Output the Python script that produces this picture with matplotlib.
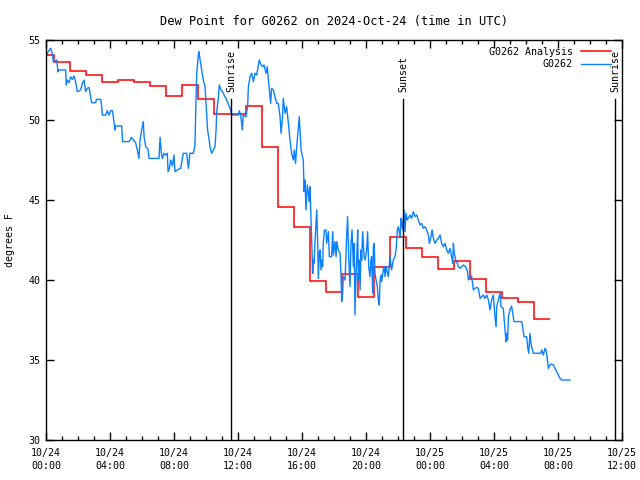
import numpy as np
import pandas as pd
import matplotlib
matplotlib.use("Agg")
import matplotlib.pyplot as plt
import matplotlib.dates as mdates

# Dew point for G0262, 2024-10-24 (UTC)
start = pd.Timestamp("2024-10-24 00:00")

# Hourly analysis values (hour since start, deg F)
ana_hours = np.arange(32)
ana_dewpt = [54.06, 53.65, 53.04, 52.81, 52.35, 52.48, 52.35, 52.13, 51.48, 52.19,
             51.29, 50.35, 50.35, 50.90, 48.29, 44.58, 43.33, 39.94, 39.23, 40.35,
             38.92, 40.83, 42.71, 41.98, 41.42, 40.67, 41.19, 40.04, 39.23, 38.90,
             38.60, 37.56]

# Station obs (hour since start, deg F)
obs_hours = [
    0.04, 0.29, 0.39, 0.46, 0.67, 0.75, 0.81, 1.23, 1.27, 1.33, 1.44, 1.54, 1.65, 1.75,
    1.85, 1.96, 2.17, 2.27, 2.38, 2.48, 2.58, 2.69, 2.79, 2.85, 3.10, 3.15, 3.42, 3.48,
    3.52, 3.73, 3.83, 3.94, 4.04, 4.15, 4.25, 4.31, 4.35, 4.73, 4.79, 5.19, 5.25, 5.33,
    5.46, 5.60, 5.71, 5.81, 5.88, 5.98, 6.08, 6.13, 6.23, 6.38, 6.44, 7.06, 7.13, 7.21,
    7.27, 7.38, 7.48, 7.58, 7.63, 7.71, 7.79, 7.90, 8.00, 8.06, 8.21, 8.42, 8.58, 8.79,
    8.90, 9.00, 9.21, 9.31, 9.36, 9.42, 9.52, 9.56, 9.63, 9.73, 9.83, 9.94, 10.00, 10.10,
    10.21, 10.25, 10.35, 10.46, 10.56, 10.63, 10.67, 10.77, 10.83, 10.92, 11.04, 11.13,
    11.25, 11.33, 11.46, 11.54, 11.60, 12.02, 12.08, 12.17, 12.27, 12.33, 12.50, 12.60,
    12.65, 12.75, 12.85, 12.96, 13.06, 13.17, 13.27, 13.33, 13.44, 13.54, 13.63, 13.75,
    13.83, 13.90, 13.96, 14.04, 14.10, 14.21, 14.31, 14.42, 14.52, 14.63, 14.69, 14.77,
    14.83, 14.94, 15.04, 15.15, 15.25, 15.35, 15.46, 15.52, 15.60, 15.67, 15.77, 15.83,
    15.94, 16.08, 16.13, 16.19, 16.25, 16.33, 16.40, 16.46, 16.50, 16.56, 16.63, 16.67,
    16.71, 16.75, 16.81, 16.92, 16.98, 17.02, 17.08, 17.13, 17.19, 17.25, 17.29, 17.33,
    17.40, 17.50, 17.54, 17.65, 17.71, 17.85, 17.92, 17.96, 18.06, 18.13, 18.17, 18.27,
    18.38, 18.44, 18.48, 18.54, 18.58, 18.69, 18.79, 18.85, 18.92, 19.00, 19.06, 19.13,
    19.21, 19.27, 19.31, 19.38, 19.42, 19.48, 19.52, 19.58, 19.63, 19.69, 19.73, 19.79,
    19.88, 19.94, 20.04, 20.10, 20.17, 20.25, 20.31, 20.35, 20.42, 20.46, 20.52, 20.56,
    20.63, 20.71, 20.77, 20.83, 20.88, 20.94, 20.98, 21.08, 21.15, 21.19, 21.25, 21.29,
    21.40, 21.50, 21.60, 21.71, 21.81, 21.88, 21.92, 21.96, 22.02, 22.08, 22.13, 22.19,
    22.23, 22.29, 22.38, 22.44, 22.50, 22.58, 22.69, 22.75, 22.85, 22.96, 23.06, 23.17,
    23.27, 23.38, 23.48, 23.58, 23.69, 23.79, 23.90, 23.96, 24.04, 24.13, 24.21, 24.31,
    24.42, 24.52, 24.63, 24.73, 24.83, 24.94, 25.04, 25.15, 25.25, 25.35, 25.42, 25.46,
    25.52, 25.63, 25.71, 25.77, 25.88, 25.98, 26.08, 26.23, 26.35, 26.40, 26.50, 26.60,
    26.71, 26.81, 26.92, 27.02, 27.13, 27.23, 27.33, 27.44, 27.54, 27.65, 27.75, 27.85,
    27.96, 28.06, 28.13, 28.17, 28.27, 28.38, 28.44, 28.58, 28.65, 28.75, 28.79, 28.85,
    28.90, 29.00, 29.10, 29.17, 29.25, 29.73, 29.79, 29.88, 30.04, 30.10, 30.17, 30.25,
    30.31, 30.35, 30.46, 30.92, 30.98, 31.08, 31.19, 31.25, 31.33, 31.40, 31.50, 31.60,
    31.71, 31.81, 31.92, 32.02, 32.13, 32.23, 32.75]
obs_dewpt = [
    54.13, 54.48, 54.17, 53.65, 53.75, 53.00, 53.13, 53.13, 52.19, 52.50, 52.33, 52.70, 52.54, 52.75,
    52.40, 51.77, 51.88, 52.29, 52.50, 51.77, 51.98, 52.04, 51.46, 51.08, 51.08, 51.29, 51.29, 50.83,
    50.31, 50.31, 50.58, 50.31, 50.58, 50.58, 49.90, 49.38, 49.63, 49.63, 48.65, 48.65, 48.75, 48.92,
    48.75, 48.58, 48.13, 47.60, 48.75, 49.38, 49.90, 48.96, 48.33, 48.17, 47.60, 47.60, 48.92, 47.92,
    47.60, 47.92, 47.81, 47.92, 46.77, 46.98, 47.50, 47.13, 47.81, 46.77, 46.88, 46.98, 47.92, 47.92,
    46.98, 47.92, 47.92, 48.44, 50.63, 52.92, 54.06, 54.27, 53.75, 53.13, 52.50, 52.08, 51.04, 49.38,
    48.65, 48.33, 47.92, 48.13, 48.33, 49.38, 50.52, 51.35, 52.19, 51.92, 51.77, 51.56,
    51.35, 51.15, 50.83, 50.63, 50.31, 50.31, 50.58, 50.31, 49.38, 50.31, 50.20, 50.83,
    52.08, 52.70, 52.92, 52.40, 52.92, 52.81, 53.44, 53.75, 53.44, 53.33, 53.44, 52.92,
    53.33, 52.50, 51.88, 51.04, 51.98, 51.88, 51.46, 51.04, 51.04, 50.20, 49.17, 50.00,
    51.35, 50.42, 50.83, 49.79, 48.75, 47.92, 47.50, 48.13, 47.29, 48.33, 49.48, 50.20,
    48.13, 47.50, 45.52, 46.25, 44.38, 45.94, 45.42, 44.90, 45.83, 43.96, 41.67, 40.42,
    41.25, 41.04, 42.29, 44.38, 42.40, 40.10, 41.67, 41.88, 40.63, 41.25, 40.83, 42.29,
    43.13, 43.13, 42.29, 43.02, 41.46, 41.46, 43.02, 41.56, 42.40, 41.46, 42.40, 41.88,
    41.67, 40.21, 38.65, 39.17, 40.21, 40.00, 42.71, 43.96, 41.46, 39.58, 42.29, 43.13,
    40.83, 42.29, 37.81, 40.42, 41.25, 43.13, 40.00, 41.25, 39.38, 41.88, 41.25, 43.02,
    41.46, 41.25, 41.88, 43.02, 40.83, 40.21, 41.25, 41.46, 39.17, 42.08, 42.29, 40.42,
    40.00, 39.58, 38.75, 38.44, 40.00, 40.31, 39.90, 40.63, 40.83, 40.21, 40.83, 40.63,
    40.21, 41.46, 40.63, 41.25, 41.46, 41.88, 42.50, 43.13, 43.33, 43.02, 42.71, 43.85,
    43.65, 43.13, 44.38, 43.02, 44.17, 43.75, 43.96, 44.06, 43.85, 44.27, 43.96, 44.06,
    43.75, 43.44, 43.54, 43.23, 43.33, 43.13, 42.81, 42.29, 42.60, 43.13, 42.60, 42.29,
    42.50, 42.60, 42.81, 42.29, 42.08, 42.29, 41.88, 41.67, 41.98, 41.46, 41.04, 42.29,
    41.67, 41.15, 41.04, 40.83, 40.73, 40.83, 40.94, 40.83, 40.52, 40.00, 40.25, 40.25,
    39.38, 39.48, 39.54, 39.48, 38.85, 38.96, 39.06, 38.85, 39.06, 38.75, 38.13, 38.75,
    39.06, 37.71, 37.08, 38.33, 38.75, 39.17, 38.33, 38.23, 37.40, 36.15, 36.67, 36.25,
    37.71, 38.13, 38.38, 37.92, 37.40, 37.40, 37.08, 36.46, 36.46, 35.83, 35.42, 36.67,
    36.04, 35.83, 35.42, 35.42, 35.63, 35.31, 35.73, 35.63, 35.10, 34.48, 34.69, 34.75,
    34.69, 34.48, 34.27, 34.06, 33.85, 33.75, 33.75]

# sun events (hours since start)
event_hours = [11.57, 22.31, 35.56]
event_names = ["Sunrise", "Sunset", "Sunrise"]

def to_time(h):
    return start + pd.to_timedelta(np.asarray(h, dtype=float), unit="h")

plt.rcParams["font.family"] = "DejaVu Sans Mono"
plt.rcParams["font.size"] = 7.2

fig = plt.figure(figsize=(6.4, 4.8), dpi=100)
ax = fig.add_axes([46 / 640, 40 / 480, 576 / 640, 400 / 480])

# analysis drawn as steps centred on each hour
ana_h = np.asarray(ana_hours, dtype=float)
edges = np.concatenate([[ana_h[0]], ana_h[1:] - 0.5, [ana_h[-1] + 0.5]])
edge_t = mdates.date2num(to_time(edges))
ax.stairs(ana_dewpt, edge_t, color="#ff0000", lw=1.1, baseline=None, label="G0262 Analysis")

ax.plot(to_time(obs_hours), obs_dewpt, color="#0a80ff", lw=1.0, label="G0262")

for h, name in zip(event_hours, event_names):
    t = to_time([h])[0]
    ax.plot([t, t], [30, 51.3], color="black", lw=1.0)
    ax.text(t, 51.75, name, rotation=90, ha="center", va="bottom")

ax.set_xlim(mdates.date2num(start), mdates.date2num(start + pd.Timedelta(hours=36)))
ax.set_ylim(30, 55)
ax.set_yticks([30, 35, 40, 45, 50, 55])

ax.xaxis.set_major_locator(mdates.HourLocator(byhour=range(0, 24, 4)))
ax.xaxis.set_minor_locator(mdates.HourLocator())
ax.xaxis.set_major_formatter(mdates.DateFormatter("%m/%d\n%H:%M"))
for lbl in ax.get_xticklabels():
    lbl.set_linespacing(1.35)

ax.tick_params(which="both", direction="in", top=True, right=True, width=1.0)
ax.tick_params(which="major", length=6, pad=6)
ax.tick_params(which="minor", length=3)
ax.tick_params(axis="y", pad=4)
for s in ax.spines.values():
    s.set_linewidth(1.0)

ax.set_title("Dew Point for G0262 on 2024-Oct-24 (time in UTC)", pad=11)
ax.set_ylabel("degrees F", labelpad=10)

ax.legend(loc="upper right", frameon=False, markerfirst=False, handlelength=3.0,
          handletextpad=0.8, borderaxespad=0.3, labelspacing=0.25,
          bbox_to_anchor=(0.993, 1.0))

fig.savefig("out.png", dpi=100)
